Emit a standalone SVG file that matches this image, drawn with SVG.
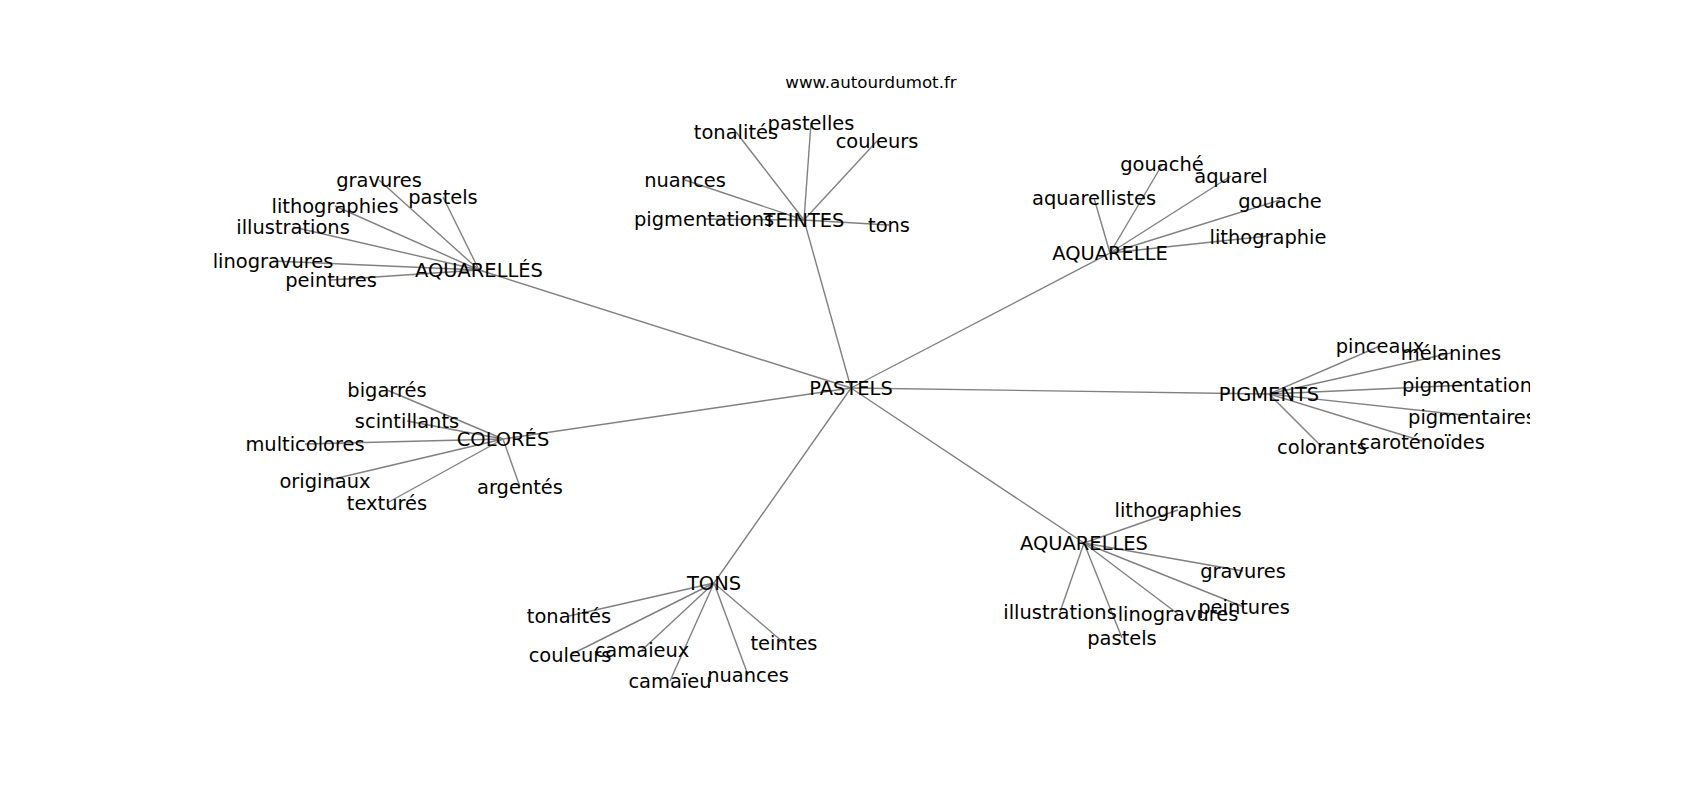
<svg xmlns="http://www.w3.org/2000/svg" width="1700" height="800" viewBox="0 0 1700 800">
<style>
text{font-family:"DejaVu Sans","Liberation Sans",sans-serif;fill:#000}
.n text{font-size:19.44px;text-anchor:middle}
.e line{stroke:#808080;stroke-width:1.4}
.t{font-size:16.67px;text-anchor:middle}
</style>
<defs><clipPath id="ax"><rect x="212.5" y="96" width="1317.5" height="616"/></clipPath></defs>
<rect width="1700" height="800" fill="#fff"/>
<text class="t" x="871" y="88">www.autourdumot.fr</text>
<g id="connectors" class="e" clip-path="url(#ax)">
<line x1="851" y1="388" x2="479" y2="270"/>
<line x1="851" y1="388" x2="804" y2="220"/>
<line x1="851" y1="388" x2="1110" y2="253"/>
<line x1="851" y1="388" x2="1269" y2="394"/>
<line x1="851" y1="388" x2="503" y2="439"/>
<line x1="851" y1="388" x2="714" y2="583"/>
<line x1="851" y1="388" x2="1084" y2="543"/>
<line x1="479" y1="270" x2="379" y2="180"/>
<line x1="479" y1="270" x2="443" y2="197"/>
<line x1="479" y1="270" x2="335" y2="206"/>
<line x1="479" y1="270" x2="293" y2="227"/>
<line x1="479" y1="270" x2="273" y2="261"/>
<line x1="479" y1="270" x2="331" y2="280"/>
<line x1="804" y1="220" x2="736" y2="132"/>
<line x1="804" y1="220" x2="811" y2="123"/>
<line x1="804" y1="220" x2="877" y2="141"/>
<line x1="804" y1="220" x2="685" y2="180"/>
<line x1="804" y1="220" x2="704" y2="219"/>
<line x1="804" y1="220" x2="889" y2="225"/>
<line x1="1110" y1="253" x2="1162" y2="165"/>
<line x1="1110" y1="253" x2="1231" y2="176"/>
<line x1="1110" y1="253" x2="1094" y2="198"/>
<line x1="1110" y1="253" x2="1280" y2="200"/>
<line x1="1110" y1="253" x2="1268" y2="236"/>
<line x1="1269" y1="394" x2="1380" y2="346"/>
<line x1="1269" y1="394" x2="1451" y2="353"/>
<line x1="1269" y1="394" x2="1467" y2="385"/>
<line x1="1269" y1="394" x2="1472" y2="416"/>
<line x1="1269" y1="394" x2="1422" y2="441"/>
<line x1="1269" y1="394" x2="1322" y2="447"/>
<line x1="503" y1="439" x2="387" y2="390"/>
<line x1="503" y1="439" x2="407" y2="421"/>
<line x1="503" y1="439" x2="305" y2="444"/>
<line x1="503" y1="439" x2="325" y2="481"/>
<line x1="503" y1="439" x2="387" y2="503"/>
<line x1="503" y1="439" x2="520" y2="487"/>
<line x1="714" y1="583" x2="569" y2="616"/>
<line x1="714" y1="583" x2="570" y2="655"/>
<line x1="714" y1="583" x2="642" y2="650"/>
<line x1="714" y1="583" x2="784" y2="643"/>
<line x1="714" y1="583" x2="670" y2="681"/>
<line x1="714" y1="583" x2="748" y2="675"/>
<line x1="1084" y1="543" x2="1178" y2="510"/>
<line x1="1084" y1="543" x2="1243" y2="571"/>
<line x1="1084" y1="543" x2="1244" y2="607"/>
<line x1="1084" y1="543" x2="1060" y2="612"/>
<line x1="1084" y1="543" x2="1178" y2="614"/>
<line x1="1084" y1="543" x2="1122" y2="638"/>
</g>
<g class="n" clip-path="url(#ax)">
<g id="n-pastels"><text x="851" y="395">PASTELS</text></g>
<g id="n-aquarelles-accent"><text x="479" y="277">AQUARELLÉS</text></g>
<g id="n-aq1-gravures"><text x="379" y="187">gravures</text></g>
<g id="n-aq1-pastels"><text x="443" y="204">pastels</text></g>
<g id="n-aq1-lithographies"><text x="335" y="213">lithographies</text></g>
<g id="n-aq1-illustrations"><text x="293" y="234">illustrations</text></g>
<g id="n-aq1-linogravures"><text x="273" y="268">linogravures</text></g>
<g id="n-aq1-peintures"><text x="331" y="287">peintures</text></g>
<g id="n-teintes"><text x="804" y="227">TEINTES</text></g>
<g id="n-te-tonalites"><text x="736" y="139">tonalités</text></g>
<g id="n-te-pastelles"><text x="811" y="130">pastelles</text></g>
<g id="n-te-couleurs"><text x="877" y="148">couleurs</text></g>
<g id="n-te-nuances"><text x="685" y="187">nuances</text></g>
<g id="n-te-pigmentations"><text x="704" y="226">pigmentations</text></g>
<g id="n-te-tons"><text x="889" y="232">tons</text></g>
<g id="n-aquarelle"><text x="1110" y="260">AQUARELLE</text></g>
<g id="n-al-gouache-e"><text x="1162" y="171">gouaché</text></g>
<g id="n-al-aquarel"><text x="1231" y="183">aquarel</text></g>
<g id="n-al-aquarellistes"><text x="1094" y="205">aquarellistes</text></g>
<g id="n-al-gouache"><text x="1280" y="208">gouache</text></g>
<g id="n-al-lithographie"><text x="1268" y="244">lithographie</text></g>
<g id="n-pigments"><text x="1269" y="401">PIGMENTS</text></g>
<g id="n-pi-pinceaux"><text x="1380" y="353">pinceaux</text></g>
<g id="n-pi-melanines"><text x="1451" y="360">mélanines</text></g>
<g id="n-pi-pigmentation"><text x="1467" y="392">pigmentation</text></g>
<g id="n-pi-pigmentaires"><text x="1472" y="424">pigmentaires</text></g>
<g id="n-pi-carotenoides"><text x="1422" y="449">caroténoïdes</text></g>
<g id="n-pi-colorants"><text x="1322" y="454">colorants</text></g>
<g id="n-colores"><text x="503" y="446">COLORÉS</text></g>
<g id="n-co-bigarres"><text x="387" y="397">bigarrés</text></g>
<g id="n-co-scintillants"><text x="407" y="428">scintillants</text></g>
<g id="n-co-multicolores"><text x="305" y="451">multicolores</text></g>
<g id="n-co-originaux"><text x="325" y="488">originaux</text></g>
<g id="n-co-textures"><text x="387" y="510">texturés</text></g>
<g id="n-co-argentes"><text x="520" y="494">argentés</text></g>
<g id="n-tons"><text x="714" y="590">TONS</text></g>
<g id="n-to-tonalites"><text x="569" y="623">tonalités</text></g>
<g id="n-to-couleurs"><text x="570" y="662">couleurs</text></g>
<g id="n-to-camaieux"><text x="642" y="657">camaieux</text></g>
<g id="n-to-teintes"><text x="784" y="650">teintes</text></g>
<g id="n-to-camaieu"><text x="670" y="688">camaïeu</text></g>
<g id="n-to-nuances"><text x="748" y="682">nuances</text></g>
<g id="n-aquarelles"><text x="1084" y="550">AQUARELLES</text></g>
<g id="n-as-lithographies"><text x="1178" y="517">lithographies</text></g>
<g id="n-as-gravures"><text x="1243" y="578">gravures</text></g>
<g id="n-as-peintures"><text x="1244" y="614">peintures</text></g>
<g id="n-as-illustrations"><text x="1060" y="619">illustrations</text></g>
<g id="n-as-linogravures"><text x="1178" y="621">linogravures</text></g>
<g id="n-as-pastels"><text x="1122" y="645">pastels</text></g>
</g>
</svg>
